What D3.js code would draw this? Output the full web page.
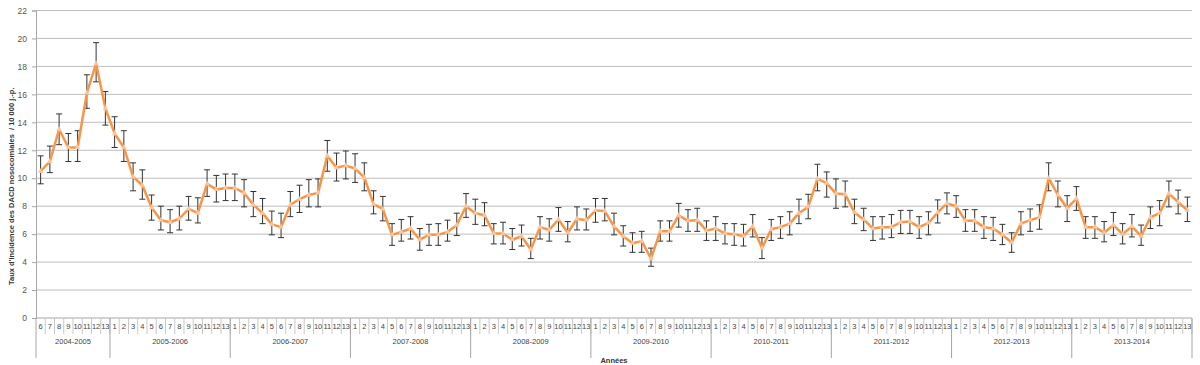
<!DOCTYPE html>
<html lang="fr">
<head>
<meta charset="UTF-8">
<title>Taux d'incidence des DACD nosocomiales</title>
<script src="https://d3js.org/d3.v7.min.js"></script>
<style>
  body { margin: 0; background: #fff; }
  svg { display: block; font-family: "Liberation Sans", Arial, sans-serif; }
</style>
</head>
<body>
<div id="chart"></div>
<script>
// Years and periods (2004-2005 starts at period 6)
const years = ["2004-2005", "2005-2006", "2006-2007", "2007-2008", "2008-2009",
  "2009-2010", "2010-2011", "2011-2012", "2012-2013", "2013-2014"];
const firstPeriod = [6, 1, 1, 1, 1, 1, 1, 1, 1, 1];

// rate per 10 000 patient-days, one array per year
const rates = [
  [10.5, 11.2, 13.5, 12.2, 12.2, 16.1, 18.2, 15.0],
  [13.2, 12.2, 10.1, 9.5, 7.9, 7.0, 6.85, 7.1, 7.8, 7.5, 9.6, 9.2, 9.3],
  [9.3, 8.95, 8.1, 7.5, 6.7, 6.5, 8.1, 8.5, 8.8, 8.95, 11.6, 10.75, 10.9],
  [10.7, 10.05, 8.15, 7.8, 5.95, 6.15, 6.4, 5.6, 5.95, 5.95, 6.15, 6.65, 8.0],
  [7.5, 7.35, 6.05, 6.05, 5.6, 5.85, 4.9, 6.5, 6.3, 7.05, 6.1, 7.1, 7.0],
  [7.7, 7.65, 6.55, 5.85, 5.35, 5.5, 4.25, 6.2, 6.2, 7.35, 6.95, 7.0, 6.25],
  [6.4, 6.05, 6.0, 5.85, 6.55, 5.0, 6.35, 6.5, 6.75, 7.5, 7.95, 9.95, 9.65],
  [8.9, 8.85, 7.55, 7.05, 6.4, 6.5, 6.5, 6.85, 6.9, 6.5, 6.8, 7.55, 8.2],
  [8.0, 6.95, 6.95, 6.5, 6.4, 5.95, 5.4, 6.75, 7.0, 7.2, 10.0, 8.8, 7.85],
  [8.55, 6.5, 6.5, 6.1, 6.65, 6.0, 6.55, 5.85, 7.2, 7.5, 8.9, 8.3, 7.7]
];
const upper = [
  [11.6, 12.3, 14.6, 13.2, 13.4, 17.4, 19.7, 16.2],
  [14.4, 13.4, 11.1, 10.6, 8.8, 8.0, 7.75, 8.0, 8.7, 8.6, 10.6, 10.2, 10.3],
  [10.3, 9.9, 9.05, 8.55, 7.65, 7.5, 9.05, 9.5, 9.9, 9.95, 12.7, 11.8, 11.95],
  [11.75, 11.1, 9.1, 8.7, 6.75, 7.05, 7.25, 6.4, 6.7, 6.75, 7.0, 7.5, 8.9],
  [8.5, 8.25, 6.75, 6.85, 6.4, 6.65, 5.7, 7.25, 7.1, 7.9, 6.9, 7.95, 7.8],
  [8.55, 8.55, 7.5, 6.6, 6.1, 6.2, 5.0, 6.95, 6.95, 8.2, 7.75, 7.85, 6.95],
  [7.25, 6.75, 6.75, 6.7, 7.4, 5.75, 7.05, 7.25, 7.6, 8.5, 8.85, 11.0, 10.45],
  [9.95, 9.8, 8.5, 7.85, 7.25, 7.25, 7.4, 7.7, 7.7, 7.25, 7.6, 8.45, 8.95],
  [8.75, 7.75, 7.75, 7.25, 7.2, 6.7, 6.1, 7.6, 7.8, 8.1, 11.1, 9.8, 8.75],
  [9.4, 7.25, 7.25, 6.9, 7.55, 6.75, 7.4, 6.65, 7.95, 8.4, 9.8, 9.15, 8.65]
];
const lower = [
  [9.6, 10.4, 12.4, 11.2, 11.2, 15.0, 16.9, 13.8],
  [12.2, 11.2, 9.1, 8.5, 7.0, 6.3, 6.1, 6.3, 7.0, 6.8, 8.7, 8.3, 8.4],
  [8.4, 7.95, 7.25, 6.75, 5.95, 5.75, 7.25, 7.55, 7.95, 7.95, 10.5, 9.8, 9.95],
  [9.7, 9.1, 7.45, 6.95, 5.2, 5.5, 5.65, 4.85, 5.2, 5.2, 5.5, 5.9, 7.2],
  [6.7, 6.6, 5.3, 5.3, 4.9, 5.15, 4.25, 5.65, 5.5, 6.2, 5.45, 6.3, 6.3],
  [6.85, 6.95, 5.95, 5.15, 4.7, 4.7, 3.7, 5.5, 5.5, 6.5, 6.2, 6.2, 5.55],
  [5.55, 5.3, 5.2, 5.15, 5.8, 4.25, 5.55, 5.7, 5.95, 6.75, 7.1, 9.1, 8.65],
  [7.85, 7.95, 6.75, 6.25, 5.55, 5.65, 5.75, 6.05, 6.05, 5.7, 5.95, 6.8, 7.45],
  [7.2, 6.2, 6.2, 5.7, 5.55, 5.25, 4.7, 5.95, 6.2, 6.35, 9.1, 7.95, 6.9],
  [7.7, 5.7, 5.7, 5.45, 5.9, 5.3, 5.8, 5.2, 6.4, 6.6, 7.95, 7.45, 6.9]
];
const yTicks = [0, 2, 4, 6, 8, 10, 12, 14, 16, 18, 20, 22];

// flatten into one row per period
const data = [];
years.forEach((yr, yi) => {
  rates[yi].forEach((v, k) => {
    data.push({ key: yr + "-" + (firstPeriod[yi] + k), year: yr, period: firstPeriod[yi] + k,
      value: v, hi: upper[yi][k], lo: lower[yi][k] });
  });
});

const W = 1200, H = 365;
const margin = { top: 10.5, right: 8, bottom: 47, left: 36 };

const svg = d3.select("#chart").append("svg")
  .attr("width", W).attr("height", H);

const x = d3.scaleBand()
  .domain(data.map(d => d.key))
  .range([margin.left, W - margin.right])
  .padding(0);

const y = d3.scaleLinear()
  .domain([0, 22])
  .range([H - margin.bottom, margin.top]);

const y0 = y(0);

// gridlines
svg.append("g")
  .selectAll("line")
  .data(yTicks.filter(t => t > 0))
  .join("line")
  .attr("x1", margin.left).attr("x2", W - margin.right)
  .attr("y1", d => y(d)).attr("y2", d => y(d))
  .attr("stroke", "#bdbdbd").attr("stroke-width", 1);

// y axis
const yAxis = svg.append("g")
  .attr("transform", `translate(${margin.left},0)`)
  .call(d3.axisLeft(y).tickValues(yTicks).tickSize(4).tickPadding(5));
yAxis.select(".domain").attr("stroke", "#a6a6a6");
yAxis.selectAll(".tick line").attr("stroke", "#a6a6a6");
yAxis.selectAll(".tick text").attr("fill", "#555").attr("font-size", 8.5);

// x axis line
svg.append("line")
  .attr("x1", margin.left).attr("x2", W - margin.right)
  .attr("y1", y0).attr("y2", y0)
  .attr("stroke", "#a6a6a6");

// period separators and labels
const periodG = svg.append("g");
periodG.selectAll("line")
  .data(data)
  .join("line")
  .attr("x1", d => x(d.key) + x.bandwidth()).attr("x2", d => x(d.key) + x.bandwidth())
  .attr("y1", y0).attr("y2", y0 + 16)
  .attr("stroke", "#c8c8c8");
periodG.selectAll("text")
  .data(data)
  .join("text")
  .attr("x", d => x(d.key) + x.bandwidth() / 2)
  .attr("y", y0 + 10.5)
  .attr("text-anchor", "middle")
  .attr("font-size", 7.5)
  .attr("fill", "#444")
  .text(d => d.period);

// year groups
const groups = years.map(yr => {
  const rows = data.filter(d => d.year === yr);
  return { year: yr, x0: x(rows[0].key), x1: x(rows[rows.length - 1].key) + x.bandwidth() };
});
const groupG = svg.append("g");
groupG.selectAll("line")
  .data([{ x0: margin.left }].concat(groups.map(g => ({ x0: g.x1 }))))
  .join("line")
  .attr("x1", d => d.x0).attr("x2", d => d.x0)
  .attr("y1", y0).attr("y2", y0 + 40)
  .attr("stroke", "#a6a6a6");
groupG.selectAll("text")
  .data(groups)
  .join("text")
  .attr("x", d => (d.x0 + d.x1) / 2)
  .attr("y", y0 + 26)
  .attr("text-anchor", "middle")
  .attr("font-size", 7.5)
  .attr("fill", "#444")
  .text(d => d.year);

// axis titles
svg.append("text")
  .attr("x", (margin.left + W - margin.right) / 2)
  .attr("y", H - 2)
  .attr("text-anchor", "middle")
  .attr("font-size", 7.5)
  .attr("font-weight", "bold")
  .attr("fill", "#333")
  .text("Années");

svg.append("text")
  .attr("transform", `translate(14,${(y(0) + y(22)) / 2 + 22}) rotate(-90)`)
  .attr("text-anchor", "middle")
  .attr("font-size", 7.5)
  .attr("font-weight", "bold")
  .attr("fill", "#333")
  .attr("xml:space", "preserve")
  .text("Taux d'incidence des DACD nosocomiales  / 10 000 j.-p.");

// error bars
const cx = d => x(d.key) + x.bandwidth() / 2;
const err = svg.append("g").attr("stroke", "#333").attr("stroke-width", 1);
err.selectAll("line.v")
  .data(data)
  .join("line")
  .attr("class", "v")
  .attr("x1", cx).attr("x2", cx)
  .attr("y1", d => y(d.lo)).attr("y2", d => y(d.hi));
err.selectAll("line.t")
  .data(data)
  .join("line")
  .attr("class", "t")
  .attr("x1", d => cx(d) - 3).attr("x2", d => cx(d) + 3)
  .attr("y1", d => y(d.hi)).attr("y2", d => y(d.hi));
err.selectAll("line.b")
  .data(data)
  .join("line")
  .attr("class", "b")
  .attr("x1", d => cx(d) - 3).attr("x2", d => cx(d) + 3)
  .attr("y1", d => y(d.lo)).attr("y2", d => y(d.lo));

// line
svg.append("path")
  .datum(data)
  .attr("fill", "none")
  .attr("stroke", "#f79646")
  .attr("stroke-width", 2.5)
  .attr("stroke-linejoin", "round")
  .attr("d", d3.line().x(cx).y(d => y(d.value)));

// markers
svg.append("g")
  .selectAll("path")
  .data(data)
  .join("path")
  .attr("transform", d => `translate(${cx(d)},${y(d.value)})`)
  .attr("d", d3.symbol(d3.symbolTriangle, 14)())
  .attr("fill", "#f9c9a8")
  .attr("opacity", 0.9);
</script>
</body>
</html>
